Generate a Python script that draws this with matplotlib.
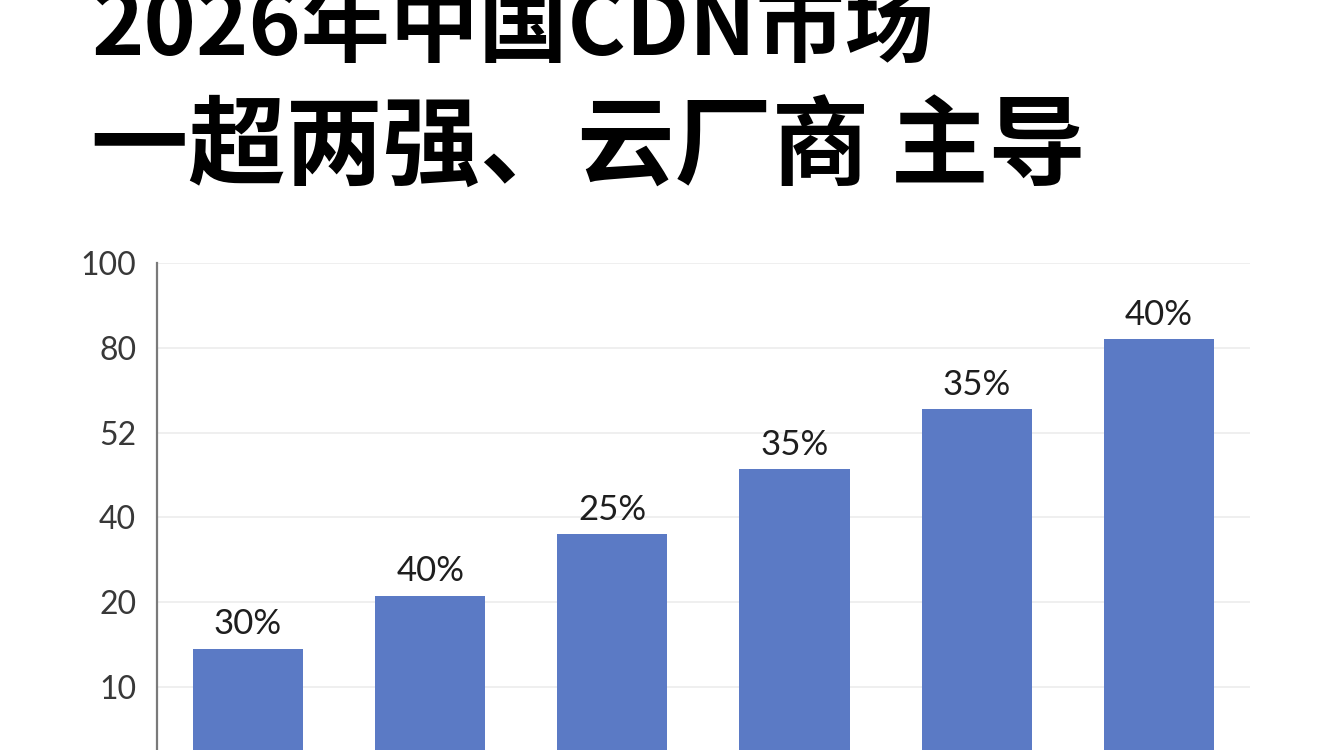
import numpy as np
import matplotlib
matplotlib.use("Agg")
from matplotlib import pyplot as plt

plt.rcParams['font.family'] = ['Lato', 'Noto Sans CJK SC', 'DejaVu Sans']

# data
titulo_1 = "2026年中国CDN市场"
titulo_2 = "一超两强、云厂商 主导"
alturas = [14.5, 21.5, 36.1, 46.8, 59.8, 82.1]
rotulos = ["30%", "40%", "25%", "35%", "35%", "40%"]
ticks_y = [10, 20, 40, 52, 80, 100]

# the axis places its uneven tick values at equal steps
valores_escala = [0, 10, 20, 40, 52, 80, 100]
niveis_escala = [0, 1, 2, 3, 4, 5, 6]

def ida(v):
    return np.interp(v, valores_escala, niveis_escala)

def volta(v):
    return np.interp(v, niveis_escala, valores_escala)

fig = plt.figure(figsize=(13.44, 7.5), dpi=100)
fig.patch.set_facecolor("white")

ax = fig.add_axes([0.1168, -0.029, 0.8132, 0.6783])
ax.set_yscale("function", functions=(ida, volta))
ax.set_ylim(0, 100)
x = np.arange(len(alturas))
ax.set_xlim(-0.5, len(alturas) - 0.5)

ax.bar(x, alturas, width=0.605, color="#5B7AC5", zorder=3)
for xi, h, r in zip(x, alturas, rotulos):
    ax.annotate(r, (xi, h), xytext=(0, 6), textcoords="offset points",
                ha="center", va="bottom", fontsize=25, color="#1E1E1E")

ax.set_yticks(ticks_y)
ax.set_yticklabels([str(t) for t in ticks_y])
ax.yaxis.set_minor_locator(matplotlib.ticker.NullLocator())
ax.tick_params(axis="y", length=0, pad=15, labelsize=23, labelcolor="#383838")
ax.set_xticks([])
ax.grid(axis="y", color="#ECECEC", linewidth=1.2, zorder=0)
for lado in ["top", "right", "bottom"]:
    ax.spines[lado].set_visible(False)
ax.spines["left"].set_color("#7A7A7A")
ax.spines["left"].set_linewidth(1.6)

fig.text(0.068, 1 - 55 / 750, titulo_1, fontsize=64, fontweight="bold",
         family=["Noto Sans CJK SC"], va="baseline", ha="left", color="black")
fig.text(0.068, 1 - 178 / 750, titulo_2, fontsize=70, fontweight="bold",
         family=["Noto Sans CJK SC"], va="baseline", ha="left", color="black")

fig.savefig("out.png", dpi=100)
